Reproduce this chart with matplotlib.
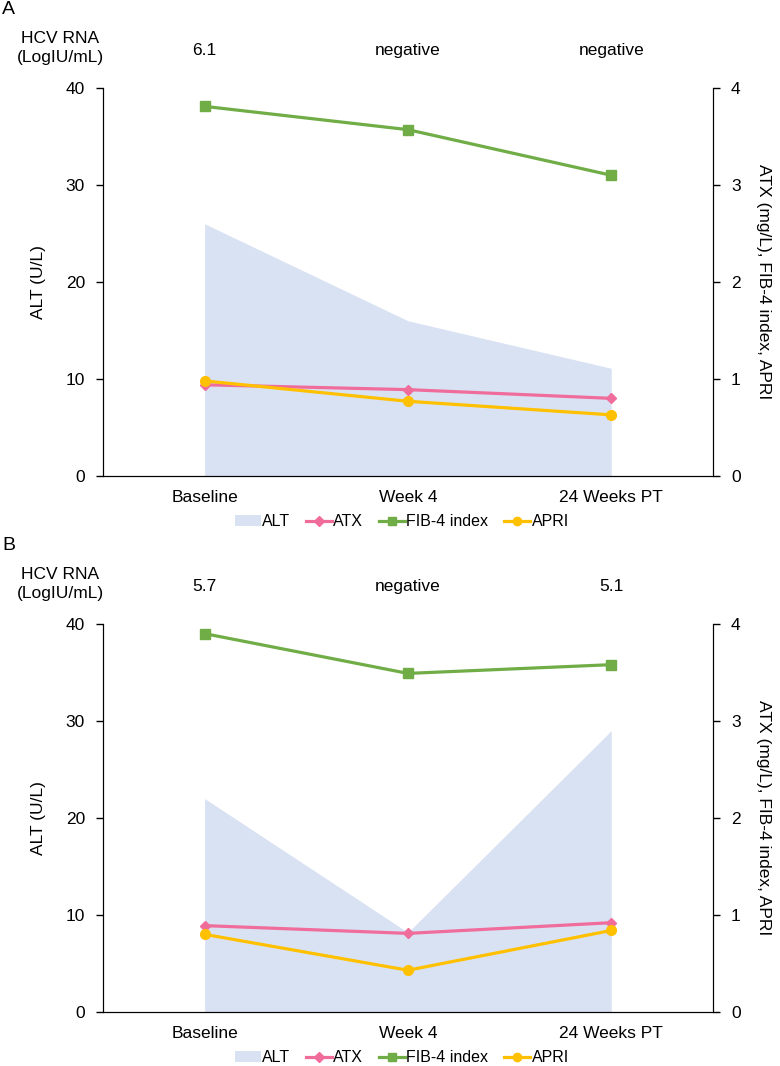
import matplotlib.pyplot as plt
from matplotlib.patches import Patch
from matplotlib.lines import Line2D

plt.rcParams["font.family"] = ["Liberation Sans", "DejaVu Sans"]
plt.rcParams["font.size"] = 12.5

categories = ["Baseline", "Week 4", "24 Weeks PT"]

# panel A
hcv_a = ["6.1", "negative", "negative"]
alt_a = [26, 16, 11.1]
atx_a = [0.94, 0.89, 0.80]
fib4_a = [3.81, 3.57, 3.10]
apri_a = [0.98, 0.77, 0.63]

# panel B
hcv_b = ["5.7", "negative", "5.1"]
alt_b = [22, 8.2, 29]
atx_b = [0.89, 0.81, 0.92]
fib4_b = [3.90, 3.49, 3.58]
apri_b = [0.80, 0.43, 0.84]

C_ALT = "#D9E2F3"
C_ATX = "#F06C9B"
C_FIB = "#70AD47"
C_APRI = "#FFC000"

W, H = 780, 1066
fig = plt.figure(figsize=(W / 100, H / 100), dpi=100)


def panel(rect, letter, top_px, hcv, alt, atx, fib4, apri):
    ax = fig.add_axes(rect)
    x = list(range(len(categories)))
    ax.fill_between(x, 0, alt, color=C_ALT, linewidth=0)
    ax.set_xlim(-0.5, 2.5)
    ax.set_ylim(0, 40)
    ax.set_yticks([0, 10, 20, 30, 40])
    ax.set_xticks(x)
    ax.set_xticklabels(categories)
    ax.tick_params(axis="x", length=0, pad=10)
    ax.tick_params(axis="y", length=5, width=1, pad=8)
    ax.spines["top"].set_visible(False)
    ax.set_ylabel("ALT (U/L)", labelpad=14)

    ax2 = ax.twinx()
    ax2.set_ylim(0, 4)
    ax2.set_yticks([0, 1, 2, 3, 4])
    ax2.spines["top"].set_visible(False)
    ax2.tick_params(axis="y", length=5, width=1, pad=8)
    ax2.plot(x, atx, color=C_ATX, lw=2.3, marker="D", ms=5.5)
    ax2.plot(x, fib4, color=C_FIB, lw=2.3, marker="s", ms=6.5)
    ax2.plot(x, apri, color=C_APRI, lw=2.3, marker="o", ms=7)
    ax2.set_ylabel("ATX (mg/L), FIB-4 index, APRI", rotation=270, labelpad=22)

    for i, t in enumerate(hcv):
        ax.text(i, 43.9, t, ha="center", va="center")
    fig.text(60 / W, 1 - (top_px + 48) / H, "HCV RNA\n(LogIU/mL)",
             ha="center", va="center", linespacing=1.3)
    fig.text(2 / W, 1 - (top_px + 10) / H, letter, ha="left", va="center",
             fontsize=14)

    handles = [
        Patch(facecolor=C_ALT, edgecolor="none"),
        Line2D([], [], color=C_ATX, lw=2.3, marker="D", ms=5),
        Line2D([], [], color=C_FIB, lw=2.3, marker="s", ms=5.5),
        Line2D([], [], color=C_APRI, lw=2.3, marker="o", ms=6),
    ]
    ax.legend(handles, ["ALT", "ATX", "FIB-4 index", "APRI"], ncol=4,
              loc="upper center", bbox_to_anchor=(0.49, -0.07), frameon=False,
              handlelength=1.6, handletextpad=0.1, columnspacing=1.0,
              fontsize=11.5, borderpad=0.2)


panel([0.132, 0.5535, 0.782, 0.364], "A", 0, hcv_a, alt_a, atx_a, fib4_a, apri_a)
panel([0.132, 0.0507, 0.782, 0.364], "B", 536, hcv_b, alt_b, atx_b, fib4_b, apri_b)

fig.savefig("out.png", dpi=100)
